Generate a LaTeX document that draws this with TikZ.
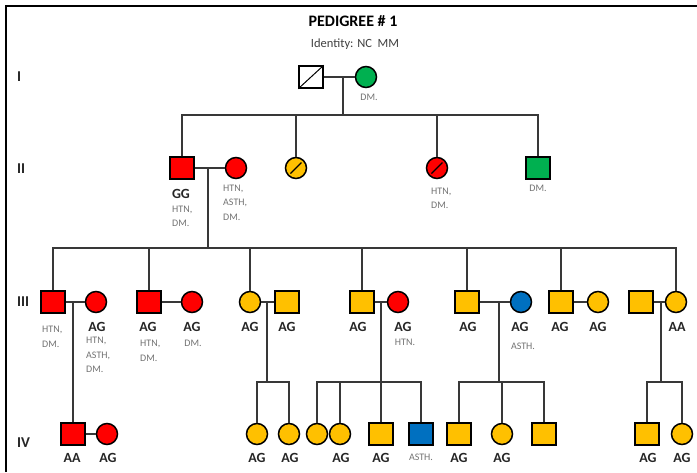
\documentclass[tikz,border=0pt]{standalone}
\usepackage{fontspec}
\setmainfont{Carlito}
\definecolor{pred}{HTML}{FF0000}
\definecolor{pyel}{HTML}{FFC000}
\definecolor{pgrn}{HTML}{00B050}
\definecolor{pblu}{HTML}{0070C0}
\begin{document}
\begin{tikzpicture}[x=1pt,y=-1pt,
  sq/.style={draw=black, line width=1.5pt, rectangle, minimum width=24pt, minimum height=22pt, inner sep=0pt},
  ci/.style={draw=black, line width=1.5pt, circle, minimum size=21pt, inner sep=0pt},
  ln/.style={draw=black!78, line width=1.1pt},
  gt/.style={font=\fontsize{14}{16}\selectfont\bfseries, text=black!85, inner sep=0pt},
  dz/.style={font=\fontsize{10}{14.5}\selectfont, text=black!55, inner sep=0pt, align=left},
  gen/.style={font=\fontsize{15}{18}\selectfont\bfseries, text=black!85, anchor=west, inner sep=0pt},
  slash/.style={draw=black, line width=1.2pt}]
\useasboundingbox (0,0) rectangle (697,472);
\fill[white] (0,0) rectangle (697,472);
\draw[line width=2.6pt] (6,472) -- (6,6) -- (697,6);

% titles
\node[font=\fontsize{16}{18}\selectfont\bfseries, inner sep=0pt] (title) at (353,21) {PEDIGREE \# 1};
\node[font=\fontsize{12.5}{14}\selectfont, text=black!75, inner sep=0pt] (ident) at (355,44) {Identity: NC~ MM};

% generation labels
\node[gen] (gI) at (17,77) {I};
\node[gen] (gII) at (17,169) {II};
\node[gen] (gIII) at (17,302) {III};
\node[gen] (gIV) at (17,443) {IV};

% generation I
\node[sq, fill=white] (a1) at (311,77) {};
\node[ci, fill=pgrn] (a2) at (366,77) {};
\draw[line width=1pt] (a1.south west) -- (a1.north east);
\node[dz] (ta2) at (369,97) {DM.};

% generation II
\node[sq, fill=pred] (b1) at (182,168) {};
\node[ci, fill=pred] (b2) at (236,168) {};
\node[ci, fill=pyel] (b3) at (296,168) {};
\node[ci, fill=pred] (b4) at (437,168) {};
\node[sq, fill=pgrn] (b5) at (538,168) {};
\draw[slash] ([shift={(-5.5,5.5)}]b3.center) -- ([shift={(5.5,-5.5)}]b3.center);
\draw[slash] ([shift={(-5.5,5.5)}]b4.center) -- ([shift={(5.5,-5.5)}]b4.center);

\node[gt] (gb1) at (181,194) {GG};
\node[dz, anchor=north west] (tb1) at (172,205.5) {HTN,\\DM.};
\node[dz, anchor=north west] (tb2) at (223,184.5) {HTN,\\ASTH,\\DM.};
\node[dz, anchor=north west] (tb4) at (431,187.5) {HTN,\\DM.};
\node[dz] (tb5) at (538,188) {DM.};

% generation III
\node[sq, fill=pred] (c1) at (53,302) {};
\node[ci, fill=pred] (c2) at (96,302) {};
\node[sq, fill=pred] (c3) at (149,302) {};
\node[ci, fill=pred] (c4) at (192,302) {};
\node[ci, fill=pyel] (c5) at (250,302) {};
\node[sq, fill=pyel] (c6) at (287,302) {};
\node[sq, fill=pyel] (c7) at (362,302) {};
\node[ci, fill=pred] (c8) at (398,302) {};
\node[sq, fill=pyel] (c9) at (467,302) {};
\node[ci, fill=pblu] (c10) at (521,302) {};
\node[sq, fill=pyel] (c11) at (561,302) {};
\node[ci, fill=pyel] (c12) at (598,302) {};
\node[sq, fill=pyel] (c13) at (641,302) {};
\node[ci, fill=pyel] (c14) at (676,302) {};

\node[gt] (gc2) at (97,327) {AG};
\node[gt] (gc3) at (148,327) {AG};
\node[gt] (gc4) at (192,327) {AG};
\node[gt] (gc5) at (250,327) {AG};
\node[gt] (gc6) at (287,327) {AG};
\node[gt] (gc7) at (358,327) {AG};
\node[gt] (gc8) at (403,327) {AG};
\node[gt] (gc9) at (468,327) {AG};
\node[gt] (gc10) at (520,327) {AG};
\node[gt] (gc11) at (560,327) {AG};
\node[gt] (gc12) at (598,327) {AG};
\node[gt] (gc14) at (677,327) {AA};

\node[dz, anchor=north west] (tc1) at (42,326) {HTN,\\DM.};
\node[dz, anchor=north west] (tc2) at (86,337) {HTN,\\ASTH,\\DM.};
\node[dz, anchor=north west] (tc3) at (140,340) {HTN,\\DM.};
\node[dz] (tc4) at (193,343) {DM.};
\node[dz] (tc8) at (405,342) {HTN.};
\node[dz] (tc10) at (523,346) {ASTH.};

% generation IV
\node[sq, fill=pred] (d1) at (73,434) {};
\node[ci, fill=pred] (d2) at (107,434) {};
\node[ci, fill=pyel] (d3) at (257,434) {};
\node[ci, fill=pyel] (d4) at (289,434) {};
\node[ci, fill=pyel] (d5) at (317,434) {};
\node[ci, fill=pyel] (d6) at (340,434) {};
\node[sq, fill=pyel] (d7) at (381,434) {};
\node[sq, fill=pblu] (d8) at (421,434) {};
\node[sq, fill=pyel] (d9) at (459,434) {};
\node[ci, fill=pyel] (d10) at (502,434) {};
\node[sq, fill=pyel] (d11) at (544,434) {};
\node[sq, fill=pyel] (d12) at (647,434) {};
\node[ci, fill=pyel] (d13) at (682,434) {};

\node[gt] (gd1) at (72,458) {AA};
\node[gt] (gd2) at (108,458) {AG};
\node[gt] (gd3) at (257,458) {AG};
\node[gt] (gd4) at (290,458) {AG};
\node[gt] (gd6) at (341,458) {AG};
\node[gt] (gd7) at (381,458) {AG};
\node[gt] (gd9) at (459,458) {AG};
\node[gt] (gd10) at (502,458) {AG};
\node[gt] (gd12) at (648,458) {AG};
\node[gt] (gd13) at (682,458) {AG};
\node[dz] (td8) at (421,457) {ASTH.};

% connectors generation I -> II
\coordinate (m1) at (343,77);
\coordinate (s1) at (343,115);
\draw[ln] (a1.east) -- (a2.west);
\draw[ln] (m1) -- (s1);
\draw[ln] (b1.north) |- (b5.north |- s1) -- (b5.north);
\draw[ln] (b3.north) -- (b3.north |- s1);
\draw[ln] (b4.north) -- (b4.north |- s1);

% generation II -> III
\coordinate (m2) at (208,168);
\coordinate (s2) at (208,248);
\draw[ln] (b1.east) -- (b2.west);
\draw[ln] (m2) -- (s2);
\draw[ln] (c1.north) |- (c14.north |- s2) -- (c14.north);
\foreach \n in {c3,c5,c7,c9,c11} \draw[ln] (\n.north) -- (\n.north |- s2);

% generation III marriages
\draw[ln] (c1.east) -- (c2.west);
\draw[ln] (c3.east) -- (c4.west);
\draw[ln] (c5.east) -- (c6.west);
\draw[ln] (c7.east) -- (c8.west);
\draw[ln] (c9.east) -- (c10.west);
\draw[ln] (c11.east) -- (c12.west);
\draw[ln] (c13.east) -- (c14.west);

% generation III -> IV
\coordinate (m31) at (73,302);
\draw[ln] (m31) -- (d1.north);
\coordinate (m33) at (267,302);
\coordinate (s33) at (267,382);
\draw[ln] (m33) -- (s33);
\draw[ln] (d3.north) |- (d4.north |- s33) -- (d4.north);
\coordinate (m34) at (381,302);
\coordinate (s34) at (381,382);
\draw[ln] (m34) -- (s34);
\draw[ln] (d5.north) |- (d8.north |- s34) -- (d8.north);
\draw[ln] (d6.north) -- (d6.north |- s34);
\draw[ln] (d7.north) -- (d7.north |- s34);
\coordinate (m35) at (499,302);
\coordinate (s35) at (499,382);
\draw[ln] (m35) -- (s35);
\draw[ln] (d9.north) |- (d11.north |- s35) -- (d11.north);
\draw[ln] (d10.north) -- (d10.north |- s35);
\coordinate (m37) at (661,302);
\coordinate (s37) at (661,382);
\draw[ln] (m37) -- (s37);
\draw[ln] (d12.north) |- (d13.north |- s37) -- (d13.north);

% generation IV marriage
\draw[ln] (d1.east) -- (d2.west);
\end{tikzpicture}
\end{document}
